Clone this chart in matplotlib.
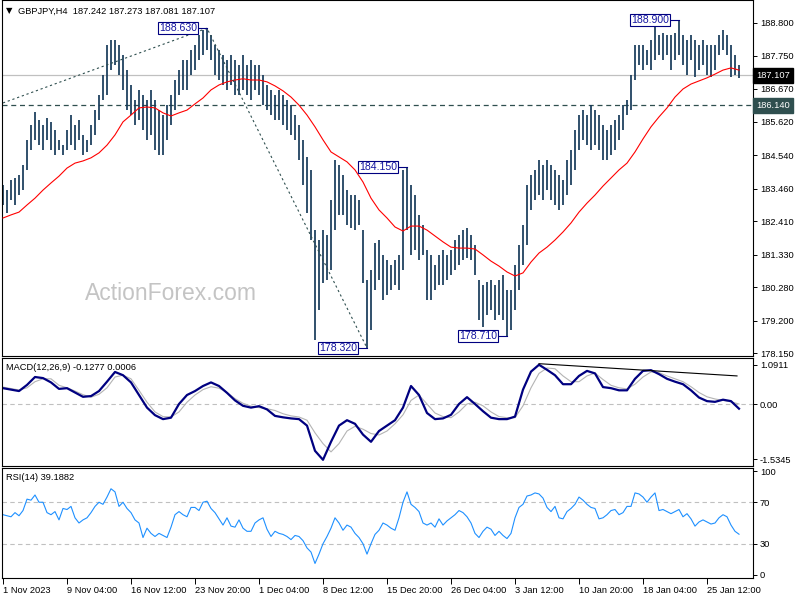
import numpy as np
import matplotlib
matplotlib.use("Agg")
import matplotlib.pyplot as plt

plt.rcParams['font.family'] = ['Liberation Sans', 'DejaVu Sans']

# GBPJPY H4 bars (1 Nov 2023 - 26 Jan 2024), one bar kept for every two H4 bars
highs = [183.57, 183.41, 183.74, 183.80, 183.90, 184.22, 185.03, 185.51, 185.93, 185.67,
         185.51, 185.74, 185.61, 185.35, 185.03, 184.86, 185.35, 185.83, 185.51, 185.67,
         185.19, 185.03, 185.51, 185.99, 186.48, 187.12, 188.09, 188.25, 188.25, 188.09,
         187.77, 187.28, 186.80, 186.32, 186.64, 186.48, 186.32, 186.64, 186.32, 185.99,
         185.83, 186.15, 186.48, 186.96, 187.28, 187.61, 187.61, 187.93, 188.09, 188.41,
         188.57, 188.63, 188.41, 188.09, 187.93, 187.77, 187.61, 187.77, 187.61, 187.45,
         187.77, 187.45, 187.61, 187.45, 187.45, 187.12, 186.80, 186.64, 186.48, 186.64,
         186.48, 186.32, 186.15, 185.83, 185.51, 185.03, 184.48, 184.06, 182.12, 181.80,
         182.12, 181.96, 183.09, 184.38, 184.22, 183.90, 183.41, 183.25, 183.25, 183.09,
         182.12, 180.51, 180.83, 181.70, 181.80, 181.32, 181.16, 181.00, 181.16, 181.32,
         184.06, 184.15, 183.57, 183.25, 182.61, 182.28, 181.48, 181.32, 181.00, 181.32,
         181.48, 181.32, 181.48, 181.80, 181.96, 182.12, 182.19, 181.96, 181.64, 180.51,
         180.35, 180.45, 180.51, 180.35, 180.51, 180.67, 180.19, 180.19, 181.00, 181.64,
         182.28, 183.57, 183.90, 184.06, 184.38, 184.22, 184.38, 184.22, 184.06, 183.90,
         183.74, 184.38, 184.70, 185.35, 185.83, 185.99, 185.83, 186.15, 185.99, 185.83,
         185.51, 185.35, 185.51, 185.67, 185.83, 186.15, 186.32, 187.12, 188.09, 188.09,
         188.09, 187.93, 188.25, 188.74, 188.41, 188.48, 188.41, 188.41, 188.48, 188.90,
         188.41, 188.25, 188.41, 188.25, 188.09, 188.25, 188.09, 188.09, 188.09, 188.41,
         188.57, 188.41, 188.09, 187.77, 187.45]
lows = [182.93, 182.67, 183.09, 182.93, 183.25, 183.41, 184.06, 184.70, 185.03, 184.86,
        184.70, 185.03, 184.70, 184.54, 184.70, 184.54, 184.70, 184.86, 184.70, 185.03,
        184.54, 184.64, 184.86, 185.19, 185.67, 186.32, 186.48, 187.28, 187.45, 187.12,
        186.64, 185.99, 185.83, 185.51, 185.67, 185.35, 185.03, 185.19, 184.70, 184.54,
        184.54, 185.03, 185.51, 185.99, 186.48, 186.64, 186.64, 187.12, 187.28, 187.61,
        187.77, 187.93, 187.61, 187.12, 186.96, 186.80, 186.64, 186.80, 186.48, 186.48,
        186.64, 186.48, 186.32, 186.64, 186.48, 186.15, 185.99, 185.83, 185.67, 185.67,
        185.51, 185.35, 185.19, 185.03, 184.38, 183.57, 182.67, 181.80, 178.57, 179.54,
        180.41, 180.51, 180.83, 182.12, 182.61, 182.61, 182.28, 182.19, 182.12, 182.28,
        180.41, 178.32, 178.90, 180.19, 180.51, 179.86, 180.03, 180.19, 180.35, 180.19,
        180.83, 182.12, 181.32, 181.48, 181.16, 181.32, 179.86, 179.86, 180.19, 180.35,
        180.35, 180.51, 180.67, 180.83, 181.00, 181.16, 181.22, 181.16, 180.67, 179.22,
        179.00, 179.38, 179.54, 179.22, 179.38, 179.22, 178.71, 178.90, 179.54, 180.19,
        181.00, 181.64, 182.77, 183.09, 183.25, 183.09, 183.41, 183.09, 182.93, 182.77,
        182.93, 183.25, 183.57, 184.06, 184.70, 185.03, 184.86, 184.70, 184.86, 184.70,
        184.38, 184.38, 184.54, 184.70, 185.03, 185.35, 185.83, 185.99, 186.96, 187.45,
        187.28, 187.45, 187.28, 187.61, 187.77, 187.61, 187.77, 187.28, 187.61, 187.77,
        187.45, 187.12, 187.61, 187.06, 187.28, 187.45, 187.12, 187.06, 187.28, 187.77,
        187.93, 187.77, 187.06, 187.12, 187.03]

# moving average, MACD(12,26,9) and signal, one value every four H4 bars
ma = [182.51, 182.61, 182.70, 182.93, 183.15, 183.41, 183.64, 183.86, 184.12, 184.28,
      184.35, 184.45, 184.61, 184.86, 185.19, 185.61, 185.83, 186.06, 186.09, 186.06,
      185.90, 185.80, 185.90, 185.99, 186.19, 186.38, 186.64, 186.80, 186.90, 186.96,
      187.00, 186.96, 186.96, 186.90, 186.77, 186.61, 186.41, 186.15, 185.83, 185.45,
      185.03, 184.64, 184.48, 184.32, 184.06, 183.67, 183.15, 182.77, 182.51, 182.22,
      182.09, 182.25, 182.25, 182.12, 181.93, 181.74, 181.57, 181.54, 181.54, 181.51,
      181.32, 181.12, 180.96, 180.77, 180.64, 180.74, 181.09, 181.38, 181.57, 181.80,
      182.06, 182.35, 182.70, 182.99, 183.25, 183.54, 183.80, 184.06, 184.28, 184.64,
      185.06, 185.45, 185.77, 186.06, 186.41, 186.67, 186.83, 186.93, 187.03, 187.15,
      187.28, 187.35, 187.28]
macd = [0.44, 0.40, 0.36, 0.53, 0.75, 0.72, 0.60, 0.42, 0.44, 0.32,
        0.20, 0.22, 0.36, 0.62, 0.89, 0.80, 0.60, 0.25, -0.10, -0.31,
        -0.42, -0.38, 0.00, 0.25, 0.36, 0.50, 0.60, 0.50, 0.31, 0.10,
        -0.05, -0.10, -0.06, -0.15, -0.33, -0.37, -0.40, -0.42, -0.60, -1.30,
        -1.55, -1.05, -0.60, -0.45, -0.55, -0.85, -1.05, -0.75, -0.60, -0.45,
        -0.10, 0.50, 0.25, -0.25, -0.42, -0.40, -0.30, 0.00, 0.19, 0.00,
        -0.20, -0.38, -0.42, -0.42, -0.35, 0.40, 0.90, 1.09, 0.95, 0.80,
        0.55, 0.55, 0.78, 0.92, 0.85, 0.47, 0.44, 0.38, 0.38, 0.70,
        0.92, 0.94, 0.83, 0.70, 0.62, 0.55, 0.38, 0.18, 0.08, 0.06,
        0.12, 0.08, -0.13]
signal = [0.47, 0.43, 0.39, 0.45, 0.62, 0.70, 0.70, 0.52, 0.45, 0.36,
          0.26, 0.19, 0.27, 0.45, 0.75, 0.80, 0.70, 0.38, 0.05, -0.22,
          -0.35, -0.36, -0.22, 0.05, 0.25, 0.40, 0.48, 0.44, 0.32, 0.15,
          0.02, -0.06, -0.10, -0.13, -0.18, -0.27, -0.33, -0.36, -0.45, -0.80,
          -1.10, -1.33, -1.10, -0.75, -0.62, -0.70, -0.82, -0.86, -0.75, -0.55,
          -0.30, 0.10, 0.25, 0.00, -0.25, -0.35, -0.38, -0.22, 0.00, 0.05,
          -0.05, -0.22, -0.35, -0.38, -0.38, -0.05, 0.45, 0.85, 1.00, 0.98,
          0.78, 0.62, 0.62, 0.78, 0.86, 0.68, 0.52, 0.45, 0.42, 0.55,
          0.75, 0.89, 0.87, 0.78, 0.70, 0.62, 0.48, 0.32, 0.20, 0.14,
          0.10, 0.06, 0.00]

# RSI(14), same spacing as the bars
rsi = [58, 57, 56, 60, 57, 62, 73, 72, 77, 70,
       70, 60, 58, 61, 53, 64, 63, 66, 55, 50,
       53, 55, 60, 66, 70, 68, 75, 83, 80, 66,
       70, 64, 60, 53, 50, 36, 45, 40, 37, 40,
       38, 36, 46, 58, 61, 58, 56, 65, 65, 62,
       70, 71, 64, 60, 54, 48, 55, 47, 46, 53,
       45, 42, 42, 50, 53, 55, 44, 37, 42, 40,
       39, 37, 34, 38, 37, 33, 26, 22, 11, 20,
       30, 37, 45, 55, 50, 43, 48, 46, 40, 36,
       30, 20, 30, 39, 43, 50, 48, 45, 43, 55,
       70, 80, 68, 65, 61, 50, 48, 50, 46, 54,
       48, 52, 55, 58, 62, 60, 56, 50, 40, 36,
       42, 46, 44, 38, 42, 38, 35, 40, 55, 65,
       68, 76, 77, 79, 78, 74, 65, 61, 66, 55,
       54, 61, 64, 68, 75, 72, 68, 65, 64, 54,
       55, 58, 62, 63, 58, 60, 66, 66, 79, 78,
       75, 70, 75, 79, 62, 63, 61, 59, 61, 63,
       56, 59, 54, 47, 51, 53, 51, 49, 50, 55,
       58, 56, 48, 42, 39.19]

date_labels = ['1 Nov 2023', '9 Nov 04:00', '16 Nov 12:00', '23 Nov 20:00',
               '1 Dec 04:00', '8 Dec 12:00', '15 Dec 20:00', '26 Dec 04:00',
               '3 Jan 12:00', '10 Jan 20:00', '18 Jan 04:00', '25 Jan 12:00']
price_ticks = [188.800, 187.750, 186.670, 185.620, 184.540, 183.460,
               182.410, 181.330, 180.280, 179.200, 178.150]
last_price = 187.107
support = 186.140
peak_bars = [51, 101, 169]
trough_bars = [91, 126]
# dotted trend lines (H4 bar number, price) and MACD divergence line
trend_t = [0, 102, 182]
trend_p = [186.22, 188.63, 178.32]
macd_trend_t = [268, 367]
macd_trend_v = [1.12, 0.78]

bar_x = np.arange(len(highs)) * 2
ind_x = np.arange(len(ma)) * 4
rsi_x = np.arange(len(rsi)) * 2

bar_col = '#173a5a'
navy = '#000080'
fs = 6.7

fig = plt.figure(figsize=(8, 6), dpi=100)
fig.patch.set_facecolor('white')


def panel(top, bottom):
    return fig.add_axes([2 / 800, 1 - bottom / 600, 751 / 800, (bottom - top) / 600])


ax1 = panel(0, 356)
ax2 = panel(358, 466)
ax3 = panel(468, 578)

for ax in (ax1, ax2, ax3):
    ax.set_xlim(-0.5, 375)
    for s in ax.spines.values():
        s.set_color('black')
        s.set_linewidth(0.8)
    ax.yaxis.tick_right()
    ax.tick_params(axis='y', direction='out', length=3, width=0.7, pad=2,
                   labelsize=fs, colors='black')
    ax.tick_params(axis='x', bottom=False, labelbottom=False)

# price panel
ax1.set_ylim(178.06, 189.54)
ax1.set_yticks(price_ticks, [f'{v:.3f}' for v in price_ticks])
ax1.text(84, 180.09, 'ActionForex.com', fontsize=16.5, color='#c4c4c4',
         ha='center', va='center', zorder=0)
ax1.axhline(last_price, color='#c0c0c0', lw=0.9, zorder=1)
ax1.axhline(support, color='#2f4f4f', lw=0.9, ls=(0, (4, 3)), zorder=1)
ax1.vlines(bar_x, lows, highs, colors=bar_col, lw=1.25, zorder=2)
ax1.plot(ind_x, ma, color='#ff0000', lw=0.8, zorder=3)
ax1.plot(trend_t, trend_p, color='#2f4f4f', lw=0.8, ls=(0, (2, 2.5)), zorder=3)

for k in peak_bars + trough_bars:
    v = highs[k] if k in peak_bars else lows[k]
    x = bar_x[k]
    ax1.plot([x - 5, x], [v, v], color=navy, lw=0.8, zorder=4)
    ax1.text(x - 5, v, f'{v:.3f}', ha='right', va='center', fontsize=7.6,
             color='#1414a0', zorder=5,
             bbox=dict(boxstyle='square,pad=0.12', fc='white', ec=navy, lw=0.8))

yt = ax1.get_yaxis_transform()
ax1.text(1.004, last_price, f'{last_price:.3f}', transform=yt, ha='left', va='center',
         fontsize=fs, color='white', clip_on=False,
         bbox=dict(boxstyle='square,pad=0.3', fc='black', ec='black'))
ax1.text(1.004, support, f'{support:.3f}', transform=yt, ha='left', va='center',
         fontsize=fs, color='white', clip_on=False,
         bbox=dict(boxstyle='square,pad=0.3', fc='#2f4f4f', ec='#2f4f4f'))

fig.text(6 / 800, 1 - 11 / 600, '\u25bc', family='DejaVu Sans', fontsize=6, va='center')
fig.text(18 / 800, 1 - 11 / 600, 'GBPJPY,H4  187.242 187.273 187.081 187.107',
         fontsize=fs, va='center')

# MACD panel
ax2.set_ylim(-1.722, 1.278)
ax2.set_yticks([1.0911, 0.0, -1.5345], ['1.0911', '0.00', '-1.5345'])
ax2.axhline(0, color='#c0c0c0', lw=0.8, ls=(0, (4, 3)))
ax2.plot(ind_x, signal, color='#b4b4b4', lw=0.8)
ax2.plot(ind_x, macd, color=navy, lw=1.6)
ax2.plot(macd_trend_t, macd_trend_v, color='black', lw=0.8)
fig.text(6 / 800, 1 - 368 / 600, 'MACD(12,26,9) -0.1277 0.0006', fontsize=fs, va='center')

# RSI panel
ax3.set_ylim(-3, 103)
ax3.set_yticks([100, 70, 30, 0], ['100', '70', '30', '0'])
ax3.axhline(70, color='#c0c0c0', lw=0.8, ls=(0, (4, 3)))
ax3.axhline(30, color='#c0c0c0', lw=0.8, ls=(0, (4, 3)))
ax3.plot(rsi_x, rsi, color='#1e90ff', lw=0.8)
fig.text(6 / 800, 1 - 477 / 600, 'RSI(14) 39.1882', fontsize=fs, va='center')

ax3.tick_params(axis='x', bottom=True, labelbottom=True, direction='out', length=4,
                width=0.7, pad=1.5, labelsize=fs)
ax3.set_xticks(np.arange(len(date_labels)) * 32, date_labels)
for lab in ax3.get_xticklabels():
    lab.set_horizontalalignment('left')

fig.savefig('out.png', dpi=100)
